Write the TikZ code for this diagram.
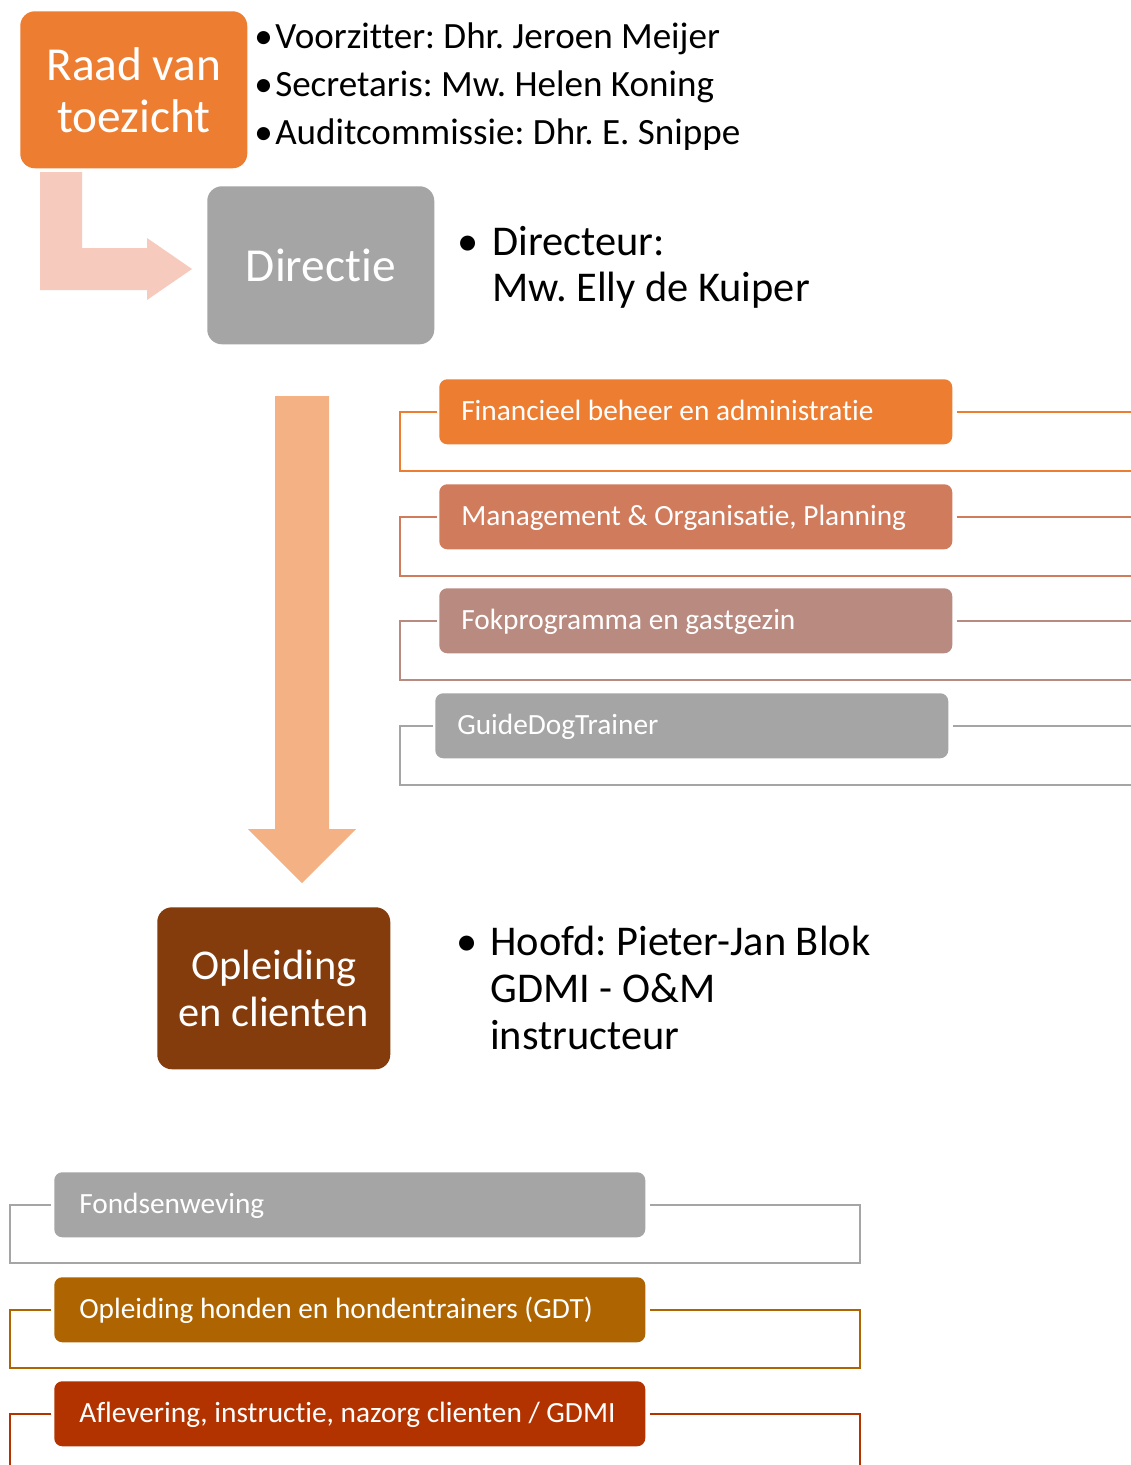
\documentclass[tikz,border=0pt]{standalone}
\usepackage{fontspec}
\setmainfont{Carlito}[Ligatures=NoCommon]
\usetikzlibrary{calc}
\definecolor{cOrange}{HTML}{ED7D31}
\definecolor{cMgmt}{HTML}{D17B5D}
\definecolor{cFok}{HTML}{B98A80}
\definecolor{cGray}{HTML}{A5A5A5}
\definecolor{cGold}{HTML}{AE6400}
\definecolor{cRust}{HTML}{B33300}
\definecolor{cBrown}{HTML}{843C0C}
\definecolor{cArrow}{HTML}{F4B183}
\definecolor{cElbow}{HTML}{F6CBBE}
\frenchspacing
\begin{document}
\begin{tikzpicture}[x=0.75pt,y=-0.75pt,
  bigbox/.style={rounded corners=11pt, inner sep=0pt, text=white, align=center, anchor=north west},
  toplbox/.style={rounded corners=6pt, inner sep=0pt, anchor=north west, minimum height=48.75pt, minimum width=384.75pt},
  botlbox/.style={toplbox, minimum width=443.25pt},
  ltxt/.style={inner sep=0pt, anchor=base west, text=white, font=\fontsize{22}{26}\selectfont},
  conn/.style={line width=1.5pt},
  txt/.style={inner sep=0pt, anchor=base west, text=black},
  smalltxt/.style={txt, font=\fontsize{27.8}{33}\selectfont},
  largetxt/.style={txt, font=\fontsize{31.8}{35}\selectfont},
]
\useasboundingbox[fill=white] (0,0) rectangle (1131,1465);

% arrows
\fill[cElbow] (40,172) -- (82,172) -- (82,248) -- (147,248) -- (147,238) -- (192,269) -- (147,300) -- (147,290) -- (40,290) -- cycle;
\fill[cArrow] (275,396) -- (329,396) -- (329,829) -- (356,829) -- (302,883) -- (248,829) -- (275,829) -- cycle;

% main boxes
\node[bigbox, fill=cOrange, minimum width=170.25pt, minimum height=117.75pt, font=\fontsize{35.5}{39}\selectfont] (raad) at (20,11) {Raad van\\toezicht};
\node[bigbox, fill=cGray, minimum width=170.25pt, minimum height=118.5pt, font=\fontsize{35.5}{39}\selectfont] (dir) at (207,186) {Directie};
\node[bigbox, fill=cBrown, minimum width=174.75pt, minimum height=121.5pt, font=\fontsize{31.8}{35.25}\selectfont] (opl) at (157,907) {Opleiding\\en clienten};

% top bullets
\node[smalltxt] (vb1) at (254,48) {•};
\node[smalltxt] (v1) at (275,48) {Voorzitter: Dhr. Jeroen Meijer};
\node[smalltxt] (vb2) at (254,96) {•};
\node[smalltxt] (v2) at (275,96) {Secretaris: Mw. Helen Koning};
\node[smalltxt] (vb3) at (254,144) {•};
\node[smalltxt] (v3) at (275,144) {Auditcommissie: Dhr. E. Snippe};

% directeur
\node[largetxt] (db) at (457,255) {•};
\node[largetxt] (d1) at (492,255) {Directeur:};
\node[largetxt] (d2) at (492,301) {Mw. Elly de Kuiper};

% hoofd
\node[largetxt] (hb) at (456,955) {•};
\node[largetxt] (h1) at (490,955) {Hoofd: Pieter-Jan Blok};
\node[largetxt] (h2) at (490,1002) {GDMI - O\&M};
\node[largetxt] (h3) at (490,1049) {instructeur};

% top list
\coordinate (xl) at (400,0);
\coordinate (xr) at (1131,0);
\node[toplbox, fill=cOrange] (l1) at (439,379) {};
\node[toplbox, fill=cMgmt] (l2) at (439,484) {};
\node[toplbox, fill=cFok] (l3) at (439,588) {};
\node[toplbox, fill=cGray] (l4) at (435,693) {};
\node[ltxt] (l1t) at ($(l1.west)+(22,9)$) {Financieel beheer en administratie};
\node[ltxt] (l2t) at ($(l2.west)+(22,9)$) {Management \& Organisatie, Planning};
\node[ltxt] (l3t) at ($(l3.west)+(22,9)$) {Fokprogramma en gastgezin};
\node[ltxt] (l4t) at ($(l4.west)+(22,9)$) {GuideDogTrainer};
\foreach \n/\c in {l1/cOrange, l2/cMgmt, l3/cFok, l4/cGray}{
  \draw[conn, \c] ([xshift=-1.5pt]\n.west) -| ($(\n.south -| xl)+(0,26)$) -- ($(\n.south -| xr)+(0,26)$);
  \draw[conn, \c] ([xshift=3pt]\n.east) -- (\n.east -| xr);
}

% bottom list
\coordinate (yl) at (10,0);
\coordinate (yr) at (860,0);
\coordinate (pb) at (0,1465);
\node[botlbox, fill=cGray] (m1) at (54,1172) {};
\node[botlbox, fill=cGold] (m2) at (54,1277) {};
\node[botlbox, fill=cRust] (m3) at (54,1381) {};
\node[ltxt] (m1t) at ($(m1.west)+(25,9)$) {Fondsenweving};
\node[ltxt] (m2t) at ($(m2.west)+(25,9)$) {Opleiding honden en hondentrainers (GDT)};
\node[ltxt] (m3t) at ($(m3.west)+(25,9)$) {Aflevering, instructie, nazorg clienten / GDMI};
\draw[conn, cGray] ([xshift=-2pt]m1.west) -| ($(m1.south -| yl)+(0,25)$) -| (m1.east -| yr) -- ([xshift=3pt]m1.east);
\draw[conn, cGold] ([xshift=-2pt]m2.west) -| ($(m2.south -| yl)+(0,25)$) -| (m2.east -| yr) -- ([xshift=3pt]m2.east);
\draw[conn, cRust] ([xshift=-2pt]m3.west) -| (yl |- pb);
\draw[conn, cRust] ([xshift=3pt]m3.east) -| (yr |- pb);
\end{tikzpicture}
\end{document}
